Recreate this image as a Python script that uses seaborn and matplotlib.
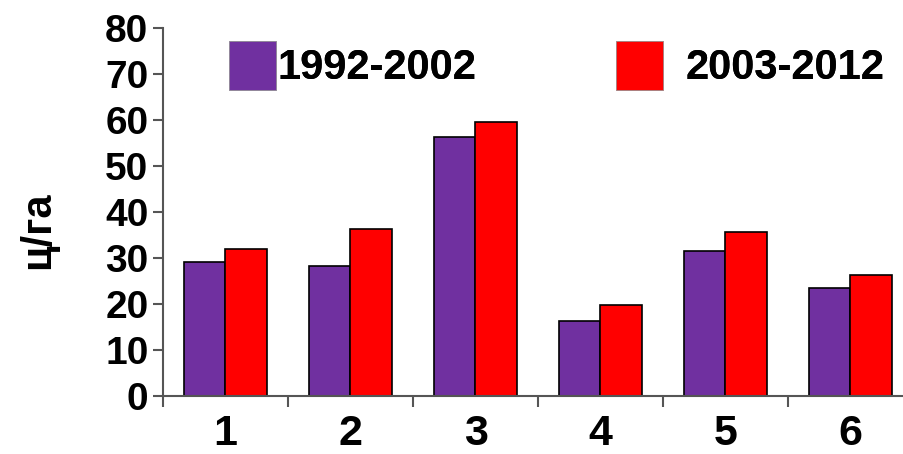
import numpy as np
import pandas as pd
import matplotlib
matplotlib.use("Agg")
from matplotlib import pyplot as plt
from matplotlib.patches import Patch
import seaborn as sns

# data
categories = ["1", "2", "3", "4", "5", "6"]
periods = ["1992-2002", "2003-2012"]
yield_1992_2002 = [29.1, 28.3, 56.2, 16.2, 31.5, 23.5]
yield_2003_2012 = [32.0, 36.4, 59.5, 19.8, 35.6, 26.2]
colors = ["#7030A0", "#FF0000"]

df = pd.DataFrame({
    "cat": categories * 2,
    "val": yield_1992_2002 + yield_2003_2012,
    "period": [periods[0]] * len(categories) + [periods[1]] * len(categories),
})

sns.set_style("white")
plt.rcParams["font.family"] = ["Liberation Sans", "DejaVu Sans"]
plt.rcParams["font.weight"] = "bold"
plt.rcParams["text.color"] = "black"
plt.rcParams["axes.labelcolor"] = "black"

fig = plt.figure(figsize=(9.04, 4.54), dpi=100)
# axes spans x=-0.5..5.5, right end is cut by the figure edge
ax = fig.add_axes([163 / 904, 58 / 454, 750 / 904, 368 / 454])

sns.barplot(
    data=df, x="cat", y="val", hue="period", palette=colors,
    width=0.67, saturation=1, edgecolor="black", linewidth=1.2,
    legend=False, ax=ax,
)

ax.set_xlim(-0.5, 5.5)
ax.set_ylim(0, 80)
ax.set_yticks(np.arange(0, 81, 10))

# axis styling
for side in ["top", "right"]:
    ax.spines[side].set_visible(False)
for side in ["left", "bottom"]:
    ax.spines[side].set_color("#555555")
    ax.spines[side].set_linewidth(1.5)

ax.tick_params(axis="y", which="major", direction="out", length=7.5, width=1.5,
               color="#555555", labelcolor="black", labelsize=28, pad=3, left=True)
ax.tick_params(axis="x", which="major", length=0, labelsize=31, pad=13,
               labelcolor="black")
ax.set_xticks(np.arange(-0.5, 6, 1), minor=True)
ax.tick_params(axis="x", which="minor", direction="out", length=8, width=1.5,
               color="#555555", bottom=True)
for lbl in ax.get_xticklabels() + ax.get_yticklabels():
    lbl.set_fontweight("bold")

ax.set_xlabel("")
ax.set_ylabel("ц/га", fontsize=30, fontweight="bold", color="black")
ax.yaxis.set_label_coords(-0.14, 0.45)

# legend: two entries placed like the original
for period, color, x0 in zip(periods, colors, [229 / 904, 616 / 904]):
    leg = fig.legend(
        handles=[Patch(facecolor=color, edgecolor="#999999", linewidth=0.5)],
        labels=[period], loc="upper left", bbox_to_anchor=(x0, 1 - 41 / 454),
        frameon=False, handlelength=1.12, handleheight=1.42,
        handletextpad=0.05 if period == periods[0] else 0.55, borderpad=0,
        borderaxespad=0, prop={"weight": "bold", "size": 30},
        labelcolor="black",
    )
    fig.add_artist(leg)

plt.savefig("out.png", dpi=100)
